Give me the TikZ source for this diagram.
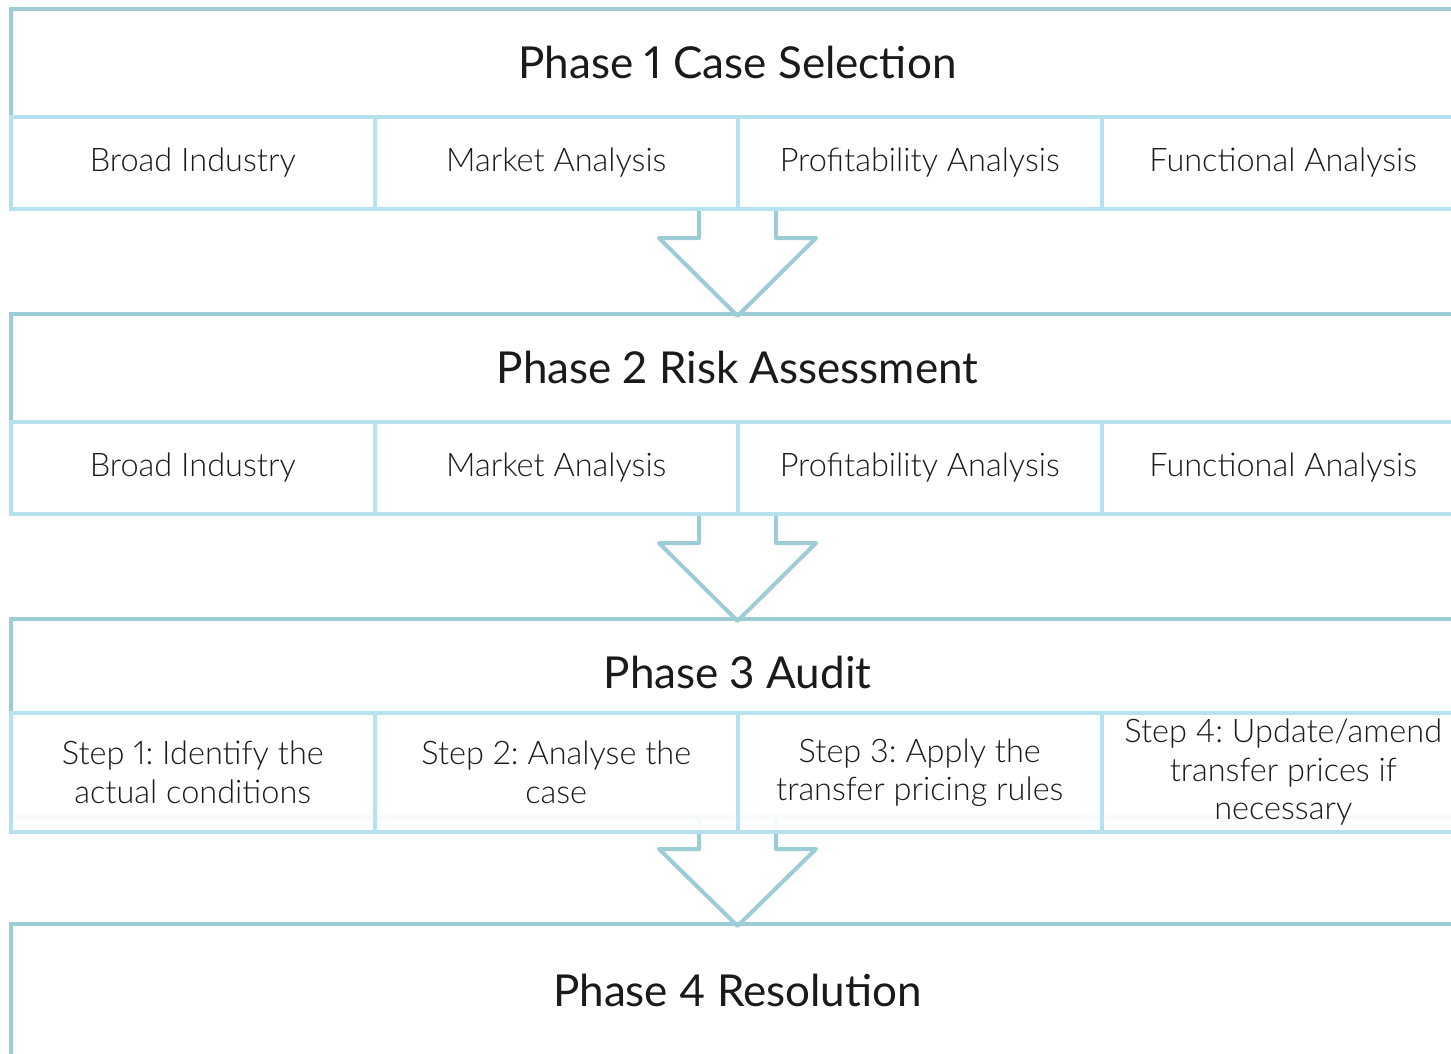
\documentclass[tikz,border=0pt]{standalone}
\usepackage{fontspec}
\setmainfont{Lato}[Numbers=Proportional]
\newfontfamily\lightfont{Lato Light}[Numbers=Proportional]
\usetikzlibrary{calc}
\definecolor{framecol}{HTML}{9DCBD6}
\definecolor{cellcol}{HTML}{B5E2EE}
\definecolor{ink}{HTML}{1A1A1A}
\frenchspacing
\begin{document}
\begin{tikzpicture}[x=1pt,y=-1pt,
  framebox/.style={draw=framecol,line width=4pt,outer sep=0pt,inner sep=0pt,anchor=north west,minimum width=1480pt},
  cellbox/.style={draw=cellcol,line width=4pt,fill=white,fill opacity=0.92,text opacity=1,outer sep=0pt,inner sep=0pt,
     minimum width=363.5pt,align=center,font=\lightfont\frenchspacing\fontsize{32.5}{38.5}\selectfont,text=ink,anchor=north west},
  phasetitle/.style={font=\fontsize{44}{50}\selectfont,text=ink},
  blockarrow/.style={draw=framecol,line width=4pt,line join=round,line cap=round}]
\useasboundingbox (0,0) rectangle (1451,1054);
\fill[white] (0,0) rectangle (1451,1054);

% frames
\node[framebox,minimum height=200pt] (f1) at (11,9) {};
\node[framebox,minimum height=200pt] (f2) at (11,314) {};
\node[framebox,minimum height=198pt] (f3) at (11,619) {};
\node[framebox,minimum height=200pt] (f4) at (11,924) {};

% titles
\node[phasetitle] (t1) at (737.5,62) {Phase 1 Case Selection};
\node[phasetitle] (t2) at (737.5,367) {Phase 2 Risk Assessment};
\node[phasetitle] (t3) at (737.5,672) {Phase 3 Audit};
\node[phasetitle] (t4) at (737.5,990) {Phase 4 Resolution};

% arrows
\coordinate (a1) at (737.5,209);
\coordinate (a2) at (737.5,514);
\coordinate (a3) at (737.5,817);
\draw[blockarrow] (a1) ++(-38.5,0) -- ++(0,29) -- ++(-40,0) -- ++(78.5,78) -- ++(78.5,-78) -- ++(-40,0) -- ++(0,-29);
\draw[blockarrow] (a2) ++(-38.5,0) -- ++(0,29) -- ++(-40,0) -- ++(78.5,78) -- ++(78.5,-78) -- ++(-40,0) -- ++(0,-29);
\draw[blockarrow] (a3) ++(-38.5,0) -- ++(0,32) -- ++(-40,0) -- ++(78.5,77) -- ++(78.5,-77) -- ++(-40,0) -- ++(0,-32);

% phase 1 cells
\node[cellbox,minimum height=92pt] (c11) at (11,117) {Broad Industry};
\node[cellbox,minimum height=92pt] (c12) at (374.5,117) {Market Analysis};
\node[cellbox,minimum height=92pt] (c13) at (738,117) {Profitability Analysis};
\node[cellbox,minimum height=92pt] (c14) at (1101.5,117) {Functional Analysis};
% phase 2 cells
\node[cellbox,minimum height=92pt] (c21) at (11,422) {Broad Industry};
\node[cellbox,minimum height=92pt] (c22) at (374.5,422) {Market Analysis};
\node[cellbox,minimum height=92pt] (c23) at (738,422) {Profitability Analysis};
\node[cellbox,minimum height=92pt] (c24) at (1101.5,422) {Functional Analysis};
% phase 3 cells
\node[cellbox,minimum height=119pt] (c31) at (11,713) {Step 1: Identify the\\actual conditions};
\node[cellbox,minimum height=119pt] (c32) at (374.5,713) {Step 2: Analyse the\\case};
\node[cellbox,minimum height=119pt] (c33) at (738,713) {Step 3: Apply the\\transfer pricing rules};
\node[cellbox,minimum height=119pt] (c34) at (1101.5,713) {Step 4: Update/amend\\transfer prices if\\necessary};
\end{tikzpicture}
\end{document}
